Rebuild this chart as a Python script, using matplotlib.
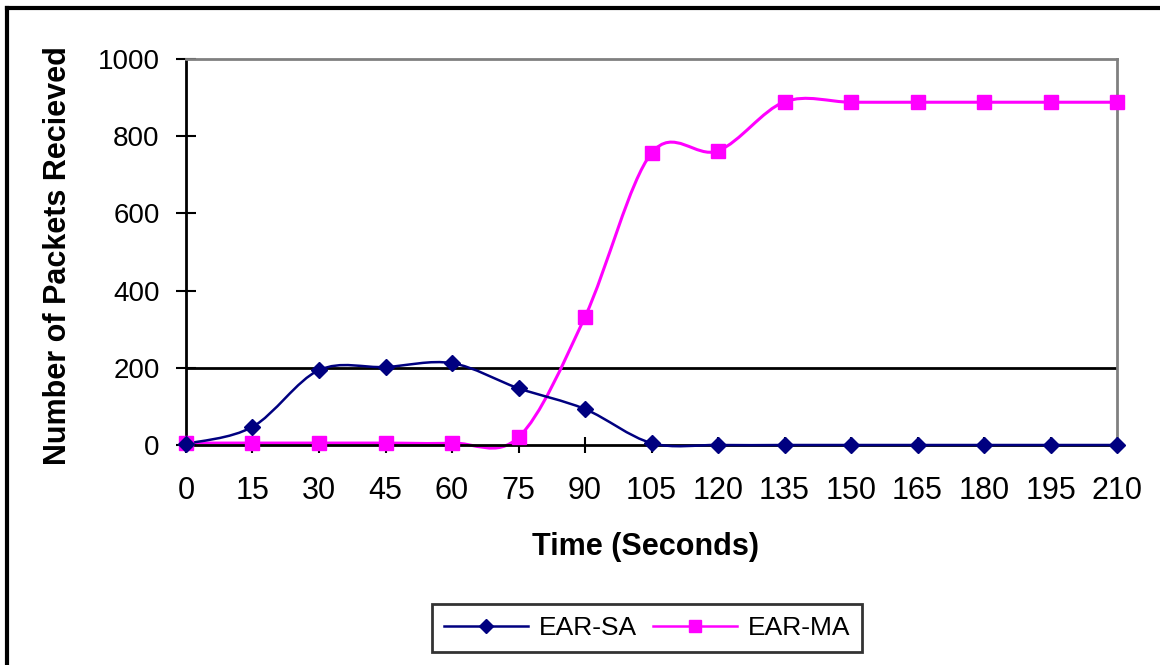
import numpy as np
import matplotlib
matplotlib.use('Agg')
import matplotlib.pyplot as plt
from matplotlib.path import Path
from matplotlib.patches import PathPatch
from matplotlib.lines import Line2D

plt.rcParams['font.family'] = ['Liberation Sans', 'DejaVu Sans']

# данные
time_s = [0, 15, 30, 45, 60, 75, 90, 105, 120, 135, 150, 165, 180, 195, 210]
ear_sa = [3, 47, 194, 202, 212, 147, 93, 5, 0, 0, 0, 0, 0, 0, 0]
ear_ma = [5, 5, 5, 5, 5, 20, 332, 756, 762, 889, 888, 888, 888, 888, 888]
y_ticks = [0, 200, 400, 600, 800, 1000]

navy = '#000080'
magenta = '#FF00FF'


# сглаженная линия как в Excel (кривые Безье)
def smooth_path(x, y):
    pts = np.column_stack([x, y]).astype(float)
    n = len(pts)
    verts = [pts[0]]
    codes = [Path.MOVETO]
    for i in range(n - 1):
        p0 = pts[i - 1] if i > 0 else pts[i]
        p1 = pts[i]
        p2 = pts[i + 1]
        p3 = pts[i + 2] if i + 2 < n else pts[i + 1]
        c1 = p1 + (p2 - p0) / 6.0
        c2 = p2 - (p3 - p1) / 6.0
        verts += [c1, c2, p2]
        codes += [Path.CURVE4] * 3
    return Path(verts, codes)


fig = plt.figure(figsize=(11.6, 6.65), dpi=100)
ax = fig.add_axes([186 / 1160, 1 - 445 / 665, (1117 - 186) / 1160, (445 - 59) / 665])

ax.axhline(200, color='black', lw=2, zorder=1)

ax.add_patch(PathPatch(smooth_path(time_s, ear_sa), fill=False, edgecolor=navy,
                       lw=1.8, clip_on=False, zorder=3))
ax.add_patch(PathPatch(smooth_path(time_s, ear_ma), fill=False, edgecolor=magenta,
                       lw=2.2, clip_on=False, zorder=2))
ax.plot(time_s, ear_ma, linestyle='none', marker='s', markersize=10,
        color=magenta, clip_on=False, zorder=4)
ax.plot(time_s, ear_sa, linestyle='none', marker='D', markersize=8,
        color=navy, clip_on=False, zorder=5)

ax.set_xlim(0, 210)
ax.set_ylim(0, 1000)
ax.set_xticks(time_s)
ax.set_yticks(y_ticks)
ax.tick_params(axis='x', direction='inout', length=11, width=1.5, labelsize=22, pad=17)
ax.tick_params(axis='y', direction='inout', length=14, width=1.5, labelsize=20, pad=12)

for s in ['left', 'bottom']:
    ax.spines[s].set_color('black')
    ax.spines[s].set_linewidth(2)
for s in ['top', 'right']:
    ax.spines[s].set_color('#808080')
    ax.spines[s].set_linewidth(2)

ax.set_xlabel('Time (Seconds)', fontsize=22, fontweight='bold')
ax.xaxis.set_label_coords(0.494, -0.225)
ax.set_ylabel('Number of Packets Recieved', fontsize=22, fontweight='bold')
ax.yaxis.set_label_coords(-0.121, 0.49)

handles = [
    Line2D([], [], color=navy, lw=1.8, marker='D', markersize=7),
    Line2D([], [], color=magenta, lw=1.8, marker='s', markersize=8),
]
leg = fig.legend(handles, ['EAR-SA', 'EAR-MA'], loc='center',
                 bbox_to_anchor=(647 / 1160, 1 - 628 / 665), ncol=2,
                 fontsize=19, frameon=True, fancybox=False, handlelength=3.2,
                 columnspacing=0.6, handletextpad=0.4, borderpad=0.45)
leg.get_frame().set_edgecolor('black')
leg.get_frame().set_linewidth(2)

# рамка рисунка
fig.add_artist(Line2D([7 / 1160, 1], [1 - 8 / 665, 1 - 8 / 665], color='black', lw=3,
                      transform=fig.transFigure))
fig.add_artist(Line2D([7 / 1160, 7 / 1160], [0, 1 - 8 / 665], color='black', lw=3,
                      transform=fig.transFigure))

fig.savefig('out.png', dpi=100)
